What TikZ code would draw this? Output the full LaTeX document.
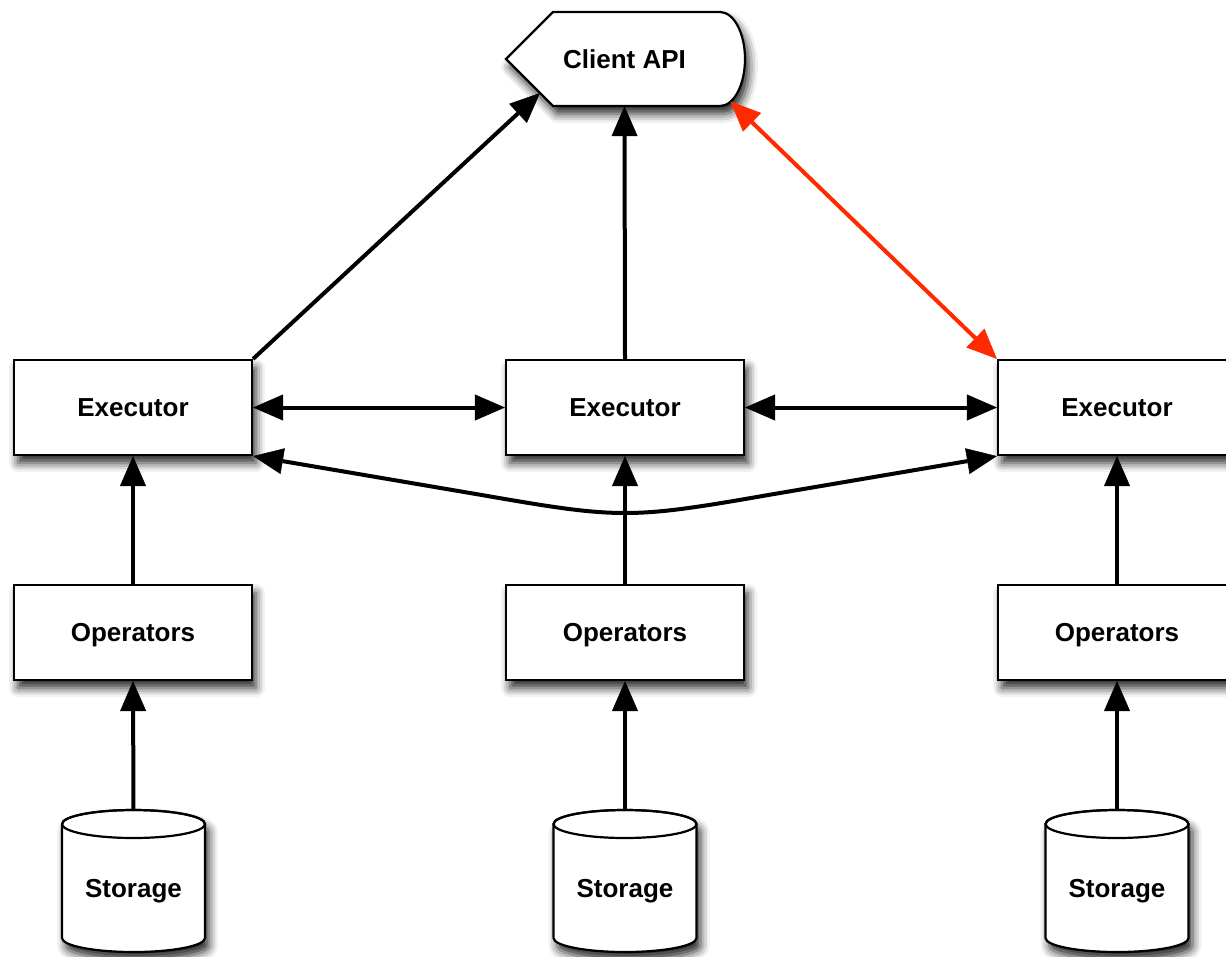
\documentclass[tikz,border=0pt]{standalone}
\usepackage{fontspec}
\setmainfont{Liberation Sans}
\usetikzlibrary{arrows.meta,shadows.blur}
\definecolor{linkred}{RGB}{255,42,0}
\tikzset{
  softshadow/.style={blur shadow={shadow xshift=4pt, shadow yshift=-8pt,
      shadow blur radius=9pt, shadow opacity=85}},
  lbl/.style={font=\fontsize{26}{30}\selectfont\bfseries, inner sep=0pt,
      text height=18.6pt, text depth=0pt},
  box/.style={lbl, draw=black, line width=2.2pt, fill=white,
      minimum width=238pt, minimum height=95pt, softshadow},
  ghost/.style={lbl, draw=none, minimum width=143pt, minimum height=156pt},
  shapeline/.style={draw=black, line width=2.2pt, fill=white},
  bighead/.tip={Triangle[length=30pt,width=26pt,line width=0.5pt,fill=black]},
  redhead/.tip={Triangle[length=30pt,width=26pt,line width=0.5pt,fill=linkred]},
  conn/.style={line width=4pt, draw=black, -{bighead}},
  bidir/.style={line width=4pt, draw=black, {bighead}-{bighead}},
  redbidir/.style={line width=4pt, draw=linkred, {redhead}-{redhead}},
}
\begin{document}
\begin{tikzpicture}[x=1pt, y=-1pt]
\useasboundingbox (0,0) rectangle (1226,956);

% Client API: pointed on the left, rounded on the right
\path[shapeline, softshadow]
  (506,59) -- (553,12) -- (720,12)
  .. controls (733.8,12) and (745,33) .. (745,59)
  .. controls (745,85) and (733.8,106) .. (720,106)
  -- (553,106) -- cycle;
\node[lbl, minimum width=239pt, minimum height=94pt] (api) at (624.5,59) {Client API};
\coordinate (apiLL) at (540,93);
\coordinate (apiLR) at (730.5,101.5);

% executors and operators
\foreach \i/\cx in {1/133, 2/625, 3/1117} {
  \node[box] (e\i) at (\cx,407.5) {Executor};
  \node[box] (o\i) at (\cx,632.5) {Operators};
}

% storage cylinders
\foreach \i/\cx in {1/133.5, 2/625, 3/1117} {
  \path[shapeline, softshadow]
    (\cx-71.5,824) -- (\cx-71.5,938)
    .. controls (\cx-71.5,945.7) and (\cx-39.5,952) .. (\cx,952)
    .. controls (\cx+39.5,952) and (\cx+71.5,945.7) .. (\cx+71.5,938)
    -- (\cx+71.5,824)
    .. controls (\cx+71.5,816.3) and (\cx+39.5,810) .. (\cx,810)
    .. controls (\cx-39.5,810) and (\cx-71.5,816.3) .. cycle;
  \draw[line width=2.2pt] (\cx,824) ellipse [x radius=71.5pt, y radius=14pt];
  \node[ghost] (s\i) at (\cx,888) {Storage};
}

% vertical data flow
\foreach \i in {1,2,3} {
  \draw[conn] (s\i.north) -- (o\i.south);
  \draw[conn] (o\i.north) -- (e\i.south);
}

% links to the client API
\draw[conn] (e1.north east) -- (apiLL);
\draw[conn] (e2.north) -- (api.south);
\draw[redbidir] (apiLR) -- (e3.north west);

% links between executors
\draw[bidir] (e1.east) -- (e2.west);
\draw[bidir] (e2.east) -- (e3.west);
\coordinate (bendL) at (480,494.7);
\coordinate (bendR) at (770,494.7);
\draw[bidir] (e1.south east) -- (bendL)
  .. controls (620,519.1) and (630,519.1) .. (bendR) -- (e3.south west);
\end{tikzpicture}
\end{document}
